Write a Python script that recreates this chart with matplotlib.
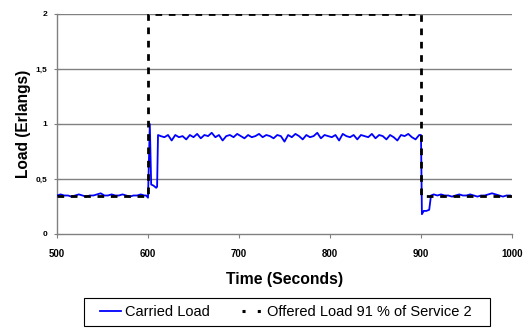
import numpy as np
import matplotlib.pyplot as plt
from matplotlib.lines import Line2D
from matplotlib.patches import Rectangle

plt.rcParams['font.family'] = ['Liberation Sans', 'DejaVu Sans']

# Offered load (step profile)
offered_t = [500, 600, 600, 900, 900, 1000]
offered_v = [0.35, 0.35, 2.0, 2.0, 0.35, 0.35]

# Carried load
before_t = list(range(500, 597, 4))
before_v = [0.35, 0.36, 0.35, 0.35, 0.34, 0.35, 0.36, 0.35, 0.34, 0.35, 0.35, 0.36, 0.37,
            0.35, 0.35, 0.36, 0.35, 0.35, 0.36, 0.35, 0.34, 0.35, 0.35, 0.36, 0.35]

rise_t = [598, 600, 602, 603.5, 606, 609, 610, 611]
rise_v = [0.35, 0.33, 1.0, 0.45, 0.44, 0.42, 0.43, 0.90]

high_t = list(range(614, 899, 4))
high_v = [0.89, 0.88, 0.90, 0.85, 0.90, 0.88, 0.89, 0.86, 0.90, 0.88, 0.91, 0.87,
          0.90, 0.89, 0.92, 0.88, 0.90, 0.85, 0.89, 0.90, 0.88, 0.91, 0.89, 0.87,
          0.90, 0.88, 0.89, 0.91, 0.88, 0.90, 0.89, 0.87, 0.90, 0.89, 0.84, 0.90,
          0.88, 0.91, 0.89, 0.86, 0.90, 0.88, 0.89, 0.92, 0.87, 0.90, 0.89, 0.88,
          0.90, 0.85, 0.91, 0.89, 0.88, 0.90, 0.86, 0.90, 0.89, 0.88, 0.91, 0.87,
          0.90, 0.89, 0.86, 0.90, 0.88, 0.85, 0.90, 0.89, 0.91, 0.88, 0.86, 0.90]

fall_t = [900, 901, 903, 906, 909, 911]
fall_v = [0.90, 0.18, 0.21, 0.21, 0.22, 0.35]

after_t = list(range(914, 1001, 4))
after_v = [0.36, 0.35, 0.36, 0.35, 0.35, 0.34, 0.35, 0.36, 0.35, 0.35, 0.36,
           0.35, 0.34, 0.35, 0.35, 0.36, 0.37, 0.36, 0.35, 0.34, 0.35, 0.35]

carried_t = before_t + rise_t + high_t + fall_t + after_t
carried_v = before_v + rise_v + high_v + fall_v + after_v

x_ticks = [500, 600, 700, 800, 900, 1000]
y_ticks = [0, 0.5, 1, 1.5, 2]
y_labels = ['0', '0,5', '1', '1,5', '2']

W, H = 523, 329
fig = plt.figure(figsize=(W / 100, H / 100), dpi=100)
ax = fig.add_axes([57 / W, 1 - 234 / H, 455 / W, 220 / H])

for y in y_ticks[1:]:
    ax.axhline(y, color='#808080', linewidth=1.0, zorder=1)

ax.plot(carried_t, carried_v, color='#0000FF', linewidth=1.3, zorder=3)
ax.plot(offered_t, offered_v, color='black', linewidth=2.0, linestyle=(0, (2.4, 2.4)), zorder=4)

ax.set_xlim(500, 1000)
ax.set_ylim(0, 2)
ax.set_xticks(x_ticks)
ax.set_xticklabels([str(t) for t in x_ticks], fontsize=7, fontweight='bold')
ax.set_yticks(y_ticks)
ax.set_yticklabels(y_labels, fontsize=6, fontweight='bold')
ax.tick_params(axis='x', direction='out', length=3, color='#808080', pad=8)
ax.tick_params(axis='y', direction='inout', length=4, color='#808080', pad=5)

for side in ['top', 'right']:
    ax.spines[side].set_visible(False)
for side in ['left', 'bottom']:
    ax.spines[side].set_color('#808080')
    ax.spines[side].set_linewidth(1.0)

ax.set_xlabel('Time (Seconds)', fontsize=11.3, fontweight='bold', labelpad=9)
ax.set_ylabel('Load (Erlangs)', fontsize=11.2, fontweight='bold', labelpad=3)

# legend: proxies only for the key glyphs, box drawn separately
handles = [Line2D([], [], color='#0000FF', linewidth=1.3),
           Line2D([], [], color='black', linewidth=2.2, linestyle=(0, (1, 4)))]
labels = ['Carried Load', 'Offered Load 91 % of Service 2']
fig.legend(handles, labels, loc='center', bbox_to_anchor=(286 / W, 1 - 312 / H), ncol=2,
           fontsize=10.5, frameon=False, handlelength=1.4, handletextpad=0.3,
           columnspacing=2.2)
fig.patches.append(Rectangle((84 / W, 1 - 326 / H), 406 / W, 28 / H, transform=fig.transFigure,
                             fill=False, edgecolor='black', linewidth=0.8))

fig.savefig('out.png', dpi=100)
